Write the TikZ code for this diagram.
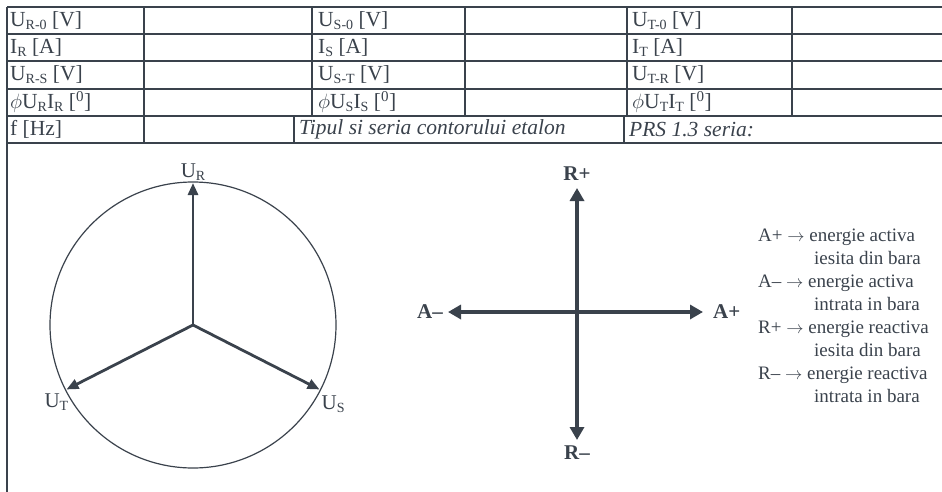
\documentclass[tikz,border=0pt]{standalone}
\usepackage{fontspec}
\setmainfont{Liberation Serif}
\usetikzlibrary{arrows.meta, calc, positioning}
\definecolor{ink}{RGB}{58,66,76}
\newcommand{\lo}[1]{\raisebox{-.3ex}{\fontsize{14}{14}\selectfont #1}}
\tikzstyle{tabLine} = [draw=ink, line width=2pt]
\tikzstyle{cell} = [anchor=west, inner sep=0pt, text=ink, font=\fontsize{21.5}{24}\selectfont]
\tikzstyle{cellIt} = [cell, font=\fontsize{21.5}{24}\selectfont\itshape]
\tikzstyle{ring} = [draw=ink, line width=1.2pt]
\tikzstyle{phasor} = [draw=ink, line width=2.8pt, -{Triangle[length=12pt, width=10pt]}]
\tikzstyle{axis} = [draw=ink, line width=4.5pt, {Triangle[length=13pt, width=14pt]}-{Triangle[length=13pt, width=14pt]}]
\tikzstyle{ph} = [text=ink, inner sep=1pt, font=\fontsize{21}{21}\selectfont]
\tikzstyle{ax} = [text=ink, inner sep=1pt, font=\fontsize{21}{21}\selectfont\bfseries]
\tikzstyle{legendText} = [anchor=north west, align=left, inner sep=0pt, text=ink, font=\fontsize{19}{23}\selectfont]

\begin{document}
\begin{tikzpicture}[x=1pt, y=-1pt]
    \useasboundingbox (0,0) rectangle (942,492);

    % the table
    \foreach \r in {0,...,5}{
        \draw [tabLine] (7,{7+27.2*\r}) -- (942,{7+27.2*\r});
    }
    \foreach \c in {7,144,312,465,627,792}{
        \draw [tabLine] (\c,7) -- (\c,115.8);
    }
    \foreach \c in {7,144,294,624}{
        \draw [tabLine] (\c,115.8) -- (\c,143);
    }
    \draw [tabLine] (7,143) -- (7,492);

    \node (uR0) [cell] at (10,20.6) {U\lo{R-0} [V]};
    \node (uS0) [cell] at (318,20.6) {U\lo{S-0} [V]};
    \node (uT0) [cell] at (632,20.6) {U\lo{T-0} [V]};
    \node (iR) [cell] at (10,47.8) {I\lo{R} [A]};
    \node (iS) [cell] at (318,47.8) {I\lo{S} [A]};
    \node (iT) [cell] at (632,47.8) {I\lo{T} [A]};
    \node (uRS) [cell] at (10,75) {U\lo{R-S} [V]};
    \node (uST) [cell] at (318,75) {U\lo{S-T} [V]};
    \node (uTR) [cell] at (632,75) {U\lo{T-R} [V]};
    \node (phiR) [cell] at (10,102.2) {$\phi$U\lo{R}I\lo{R} [\textsuperscript{0}]};
    \node (phiS) [cell] at (318,102.2) {$\phi$U\lo{S}I\lo{S} [\textsuperscript{0}]};
    \node (phiT) [cell] at (632,102.2) {$\phi$U\lo{T}I\lo{T} [\textsuperscript{0}]};
    \node (freq) [cell] at (10,129.4) {f [Hz]};
    \node (tipul) [cellIt] at (299,129.4) {Tipul si seria contorului etalon};
    \node (prs) [cellIt] at (629,129.4) {PRS 1.3 seria:};

    % phasor diagram
    \coordinate (O) at (193,325);
    \draw [ring] (O) circle [radius=143];
    \coordinate (tipR) at ($(O)+(270:142)$);
    \coordinate (tipS) at ($(O)+(27:142)$);
    \coordinate (tipT) at ($(O)+(153:142)$);
    \draw [phasor] (O) -- (tipR);
    \draw [phasor] (O) -- (tipS);
    \draw [phasor] (O) -- (tipT);
    \node (lUR) [ph, above=1pt of tipR] {U\lo{R}};
    \node (lUS) [ph, below right=5pt and 1pt of tipS] {U\lo{S}};
    \node (lUT) [ph, below left=3pt and -3pt of tipT] {U\lo{T}};

    % energy axes
    \coordinate (Rp) at (577,188);
    \coordinate (Rm) at (577,440);
    \coordinate (Am) at (448,312);
    \coordinate (Ap) at (703,312);
    \draw [axis] (Am) -- (Ap);
    \draw [axis] (Rm) -- (Rp);
    \node (lRp) [ax, above=6pt of Rp] {R+};
    \node (lRm) [ax, below=5pt of Rm] {R–};
    \node (lAm) [ax, left=4pt of Am] {A–};
    \node (lAp) [ax, right=9pt of Ap] {A+};

    % legend
    \node (legend) [legendText] at (758,229) {A+ $\rightarrow$ energie activa\\
        \hspace*{56pt}iesita din bara\\
        A– $\rightarrow$ energie activa\\
        \hspace*{56pt}intrata in bara\\
        R+ $\rightarrow$ energie reactiva\\
        \hspace*{56pt}iesita din bara\\
        R– $\rightarrow$ energie reactiva\\
        \hspace*{56pt}intrata in bara};
\end{tikzpicture}
\end{document}
